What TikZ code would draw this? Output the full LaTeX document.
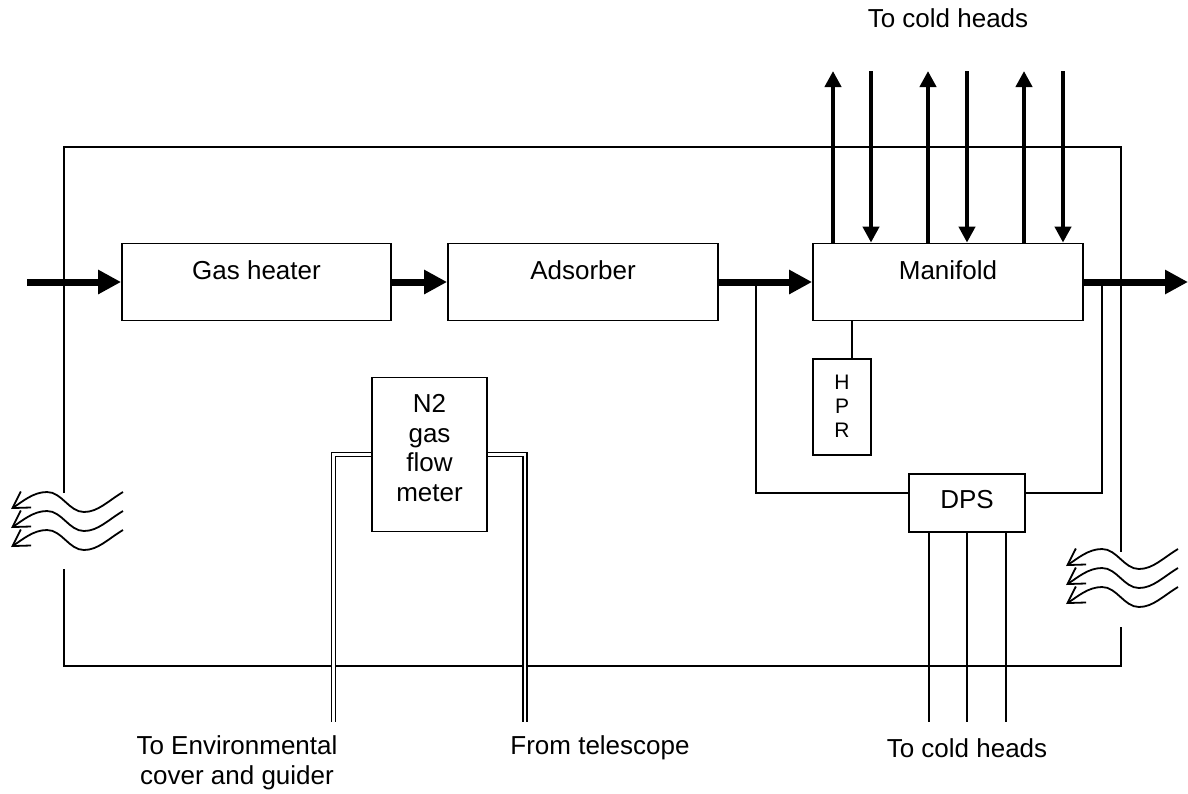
\documentclass[tikz,border=0pt]{standalone}
\usepackage{fontspec}
\setmainfont{Liberation Sans}
\usetikzlibrary{arrows.meta}
\begin{document}
\begin{tikzpicture}[x=1pt,y=-1pt,
  wire/.style={line width=1.8pt},
  box/.style={draw, line width=1.8pt, inner sep=0pt, minimum width=270pt, minimum height=77pt},
  lbl/.style={font=\fontsize{26}{29.5}\selectfont, inner sep=0pt, align=center},
  flow/.style={line width=7pt, -{Triangle[length=23pt,width=23pt]}},
  pipe/.style={line width=4pt, -{Triangle[length=16pt,width=16pt]}},
  dbl/.style={double, double distance=2.8pt, line width=1.5pt},
  wave/.style={line width=1.8pt, -{Straight Barb[length=16pt,width=19pt]}}]
\useasboundingbox (0,0) rectangle (1188,793);

% outer enclosure with two gaps
\draw[wire] (64,493) -- (64,147) -- (1121,147) -- (1121,552);
\draw[wire] (1121,627) -- (1121,666) -- (64,666) -- (64,569);

% main boxes
\node[box, minimum width=269pt] (gh) at (256.5,282) {};
\node[box] (ads) at (583,282) {};
\node[box] (man) at (948,282) {};
\node[lbl] (ghl) at (256.5,270) {Gas heater};
\node[lbl] (adsl) at (583,270) {Adsorber};
\node[lbl] (manl) at (948,270) {Manifold};

\node[draw, wire, inner sep=0pt, minimum width=58pt, minimum height=96pt] (hpr) at (842,407) {};
\node[font=\fontsize{21}{24}\selectfont, align=center, inner sep=0pt] (hprl) at (842,406) {H\\P\\R};

\node[box, minimum width=116pt, minimum height=58pt] (dps) at (967,503) {};
\node[lbl] (dpsl) at (967,500) {DPS};

\node[box, minimum width=115pt, minimum height=154pt] (n2) at (429.5,454.5) {};
\node[lbl] (n2l) at (429.5,448) {N2\\gas\\flow\\meter};

% main flow
\coordinate (in) at (27,282);
\coordinate (out) at (1188,282);
\draw[flow] (in) -- (gh.west);
\draw[flow] (gh.east) -- (ads.west);
\draw[flow] (ads.east) -- (man.west);
\draw[flow] (man.east) -- (out);

% cold head pipes
\coordinate (u1) at (833,71);
\coordinate (u2) at (928,71);
\coordinate (u3) at (1024,71);
\coordinate (d1) at (871,71);
\coordinate (d2) at (967,71);
\coordinate (d3) at (1063,71);
\draw[pipe] (u1 |- man.north) -- (u1);
\draw[pipe] (u2 |- man.north) -- (u2);
\draw[pipe] (u3 |- man.north) -- (u3);
\draw[pipe] (d1) -- (d1 |- man.north);
\draw[pipe] (d2) -- (d2 |- man.north);
\draw[pipe] (d3) -- (d3 |- man.north);

% HPR link
\draw[wire] ([xshift=10pt]hpr.north) -- ([xshift=10pt]hpr.north |- man.south);

% DPS branches
\coordinate (bl) at (756,282);
\coordinate (br) at (1102,282);
\draw[wire] (bl) |- ([yshift=10pt]dps.west);
\draw[wire] (br) |- ([yshift=10pt]dps.east);

% DPS lines down
\coordinate (c1) at (929,722);
\coordinate (c2) at (967,722);
\coordinate (c3) at (1006,722);
\draw[wire] (c1 |- dps.south) -- (c1);
\draw[wire] (c2 |- dps.south) -- (c2);
\draw[wire] (c3 |- dps.south) -- (c3);

% N2 double pipes
\coordinate (e1) at (333.5,722);
\coordinate (e2) at (525,722);
\draw[dbl] (n2.west) -| (e1);
\draw[dbl] (n2.east) -| (e2);

% heat waves
\foreach \sx/\sy in {0/0, 0/19, 0/38, 1055/57, 1055/76, 1055/95} {
  \begin{scope}[shift={(\sx,\sy)}]
    \draw[wave] (123,492) .. controls (108,501) and (98,512) .. (84,512)
      .. controls (69,512) and (62,492) .. (47,492)
      .. controls (33,492) and (22,502) .. (11,509);
  \end{scope}
}

% texts
\node[lbl] (toptxt) at (948,18) {To cold heads};
\node[lbl] (bottxt) at (967,748) {To cold heads};
\node[lbl] (envtxt) at (237,763) {To Environmental\\cover and guider};
\node[lbl] (teltxt) at (600,748) {From telescope};
\end{tikzpicture}
\end{document}
